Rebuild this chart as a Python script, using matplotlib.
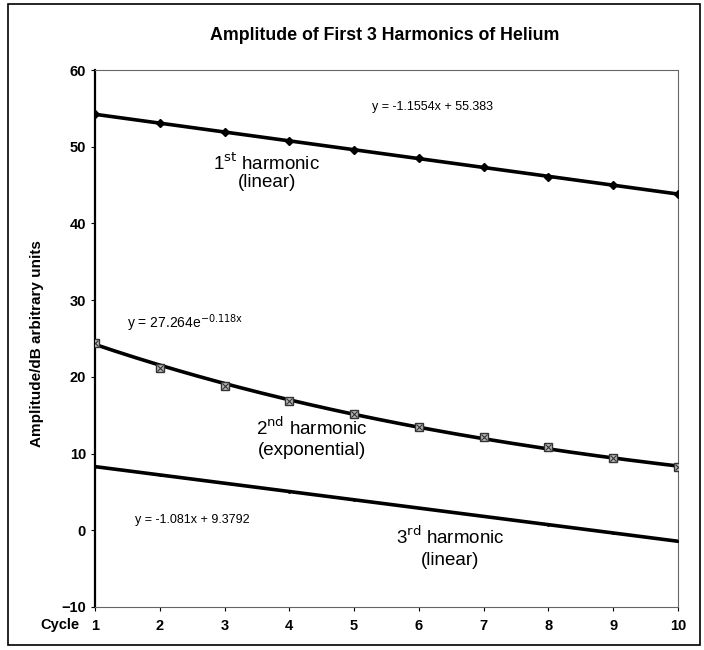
import matplotlib
matplotlib.use("Agg")
import matplotlib.pyplot as plt
import numpy as np
from matplotlib.patches import Rectangle

plt.rcParams['font.family'] = ['Liberation Sans', 'DejaVu Sans']

cycles = [1, 2, 3, 4, 5, 6, 7, 8, 9, 10]
h1 = [54.3, 53.1, 51.9, 50.8, 49.6, 48.5, 47.3, 46.1, 45.0, 43.8]
h2 = [24.4, 21.2, 18.8, 16.9, 15.2, 13.4, 12.2, 10.8, 9.4, 8.2]
h3 = [8.3, 7.2, 6.1, 5.0, 4.0, 2.9, 1.8, 0.7, -0.3, -1.4]

fit1 = (-1.1554, 55.383)
fit2 = (27.264, -0.118)
fit3 = (-1.081, 9.3792)

title = "Amplitude of First 3 Harmonics of Helium"
ylabel = "Amplitude/dB arbitrary units"
yticks = [-10, 0, 10, 20, 30, 40, 50, 60]

fig = plt.figure(figsize=(7.04, 6.5), dpi=100)
ax = fig.add_axes([95/704, 1 - 607/650, (678-95)/704, (607-70)/650])

x = np.array(cycles, dtype=float)
xf = np.linspace(1, 10, 200)

ax.plot(xf, fit1[0]*xf + fit1[1], color='black', lw=2.6, zorder=2)
ax.plot(xf, fit2[0]*np.exp(fit2[1]*xf), color='black', lw=2.6, zorder=2)
ax.plot(xf, fit3[0]*xf + fit3[1], color='black', lw=2.6, zorder=2)

ax.plot(x, h1, linestyle='none', marker='D', ms=4.5, color='black', zorder=3)
ax.plot(x, h2, linestyle='none', marker='s', ms=6, mfc='#bbbbbb', mec='#333333', mew=1, zorder=3)
ax.plot(x, h2, linestyle='none', marker='x', ms=5, color='#333333', mew=0.8, zorder=4)
ax.plot(x, h3, linestyle='none', marker='.', ms=2, color='black', zorder=3)

ax.set_xlim(1, 10)
ax.set_ylim(-10, 60)
ax.set_yticks(yticks)
ax.set_xticks(cycles)
ax.tick_params(axis='both', labelsize=10.5, direction='out', length=3, width=0.8)
for lab in ax.get_xticklabels() + ax.get_yticklabels():
    lab.set_fontweight('bold')
ax.tick_params(axis='x', pad=6)

for s in ['top', 'right', 'bottom']:
    ax.spines[s].set_linestyle((0, (1, 1)))
    ax.spines[s].set_color('#666666')
    ax.spines[s].set_linewidth(0.8)
ax.spines['left'].set_linewidth(1.6)
ax.spines['left'].set_color('black')

ax.set_ylabel(ylabel, fontsize=11, fontweight='bold')
ax.yaxis.set_label_coords(-0.088, 0.49)

fig.text(385/704, 1 - 35/650, title, ha='center', va='center', fontsize=12.8, fontweight='bold')
fig.text(40/704, 1 - 625/650, "Cycle", ha='left', va='center', fontsize=10.5, fontweight='bold')

ax.text(5.27, 55.2, r"y = -1.1554x + 55.383", fontsize=9, ha='left', va='center')
ax.text(3.65, 47.8, r"1$^{\mathrm{st}}$ harmonic", fontsize=13.5, ha='center', va='center')
ax.text(3.65, 45.3, "(linear)", fontsize=13.5, ha='center', va='center')

ax.text(1.49, 27.0, r"y = 27.264e$^{\mathrm{-0.118x}}$", fontsize=10, ha='left', va='center')
ax.text(4.35, 13.3, r"2$^{\mathrm{nd}}$ harmonic", fontsize=13.5, ha='center', va='center')
ax.text(4.35, 10.4, "(exponential)", fontsize=13.5, ha='center', va='center')

ax.text(1.62, 1.3, r"y = -1.081x + 9.3792", fontsize=9, ha='left', va='center')
ax.text(6.48, -0.9, r"3$^{\mathrm{rd}}$ harmonic", fontsize=13.5, ha='center', va='center')
ax.text(6.48, -3.9, "(linear)", fontsize=13.5, ha='center', va='center')

fig.add_artist(Rectangle((8/704, 1 - 645/650), (700-8)/704, (645-4)/650,
                         transform=fig.transFigure, fill=False, ec='black', lw=1.2))

fig.savefig("out.png", dpi=100)
